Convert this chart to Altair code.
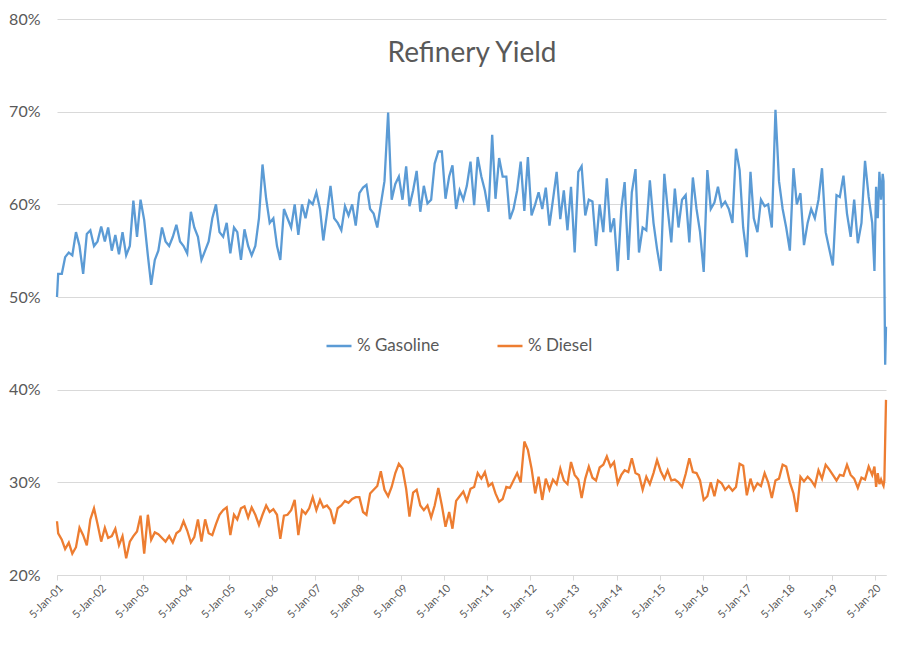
import altair as alt
import pandas as pd

# ---------------- data (values in %) ----------------
first_date = "2001-01-05"
gas_first = 50.0
dsl_first = 25.8

# monthly readings (mid-month), Jan..Dec
gasoline = {
    2001: [52.5, 52.5, 54.3, 54.8, 54.5, 57.0, 55.5, 52.5, 56.8, 57.2, 55.5, 56.0],
    2002: [57.6, 56.0, 57.5, 55.0, 56.7, 54.6, 57.0, 54.5, 55.5, 60.4, 56.5, 60.5],
    2003: [58.3, 54.5, 51.3, 54.0, 55.0, 57.5, 56.0, 55.5, 56.5, 57.8, 56.0, 55.5],
    2004: [54.7, 59.2, 57.5, 56.5, 54.0, 55.0, 56.0, 58.5, 60.0, 57.0, 56.5, 58.0],
    2005: [54.7, 57.5, 57.0, 54.0, 57.3, 55.5, 54.5, 55.5, 58.5, 64.3, 60.6, 58.0],
    2006: [58.5, 55.5, 54.0, 59.5, 58.5, 57.5, 60.0, 56.7, 60.0, 58.5, 60.4, 60.0],
    2007: [61.3, 59.5, 56.1, 59.0, 62.0, 58.5, 58.0, 57.2, 59.8, 58.8, 60.0, 57.7],
    2008: [61.2, 61.8, 62.1, 59.5, 59.0, 57.5, 60.0, 62.5, 69.9, 60.5, 62.2, 63.0],
    2009: [60.5, 64.1, 59.8, 61.5, 63.6, 59.2, 62.0, 60.1, 60.5, 64.4, 65.7, 65.7],
    2010: [60.6, 63.0, 64.2, 59.5, 61.5, 60.5, 62.0, 64.6, 59.9, 65.1, 63.0, 61.5],
    2011: [59.2, 67.5, 60.6, 65.0, 63.0, 63.0, 58.4, 59.5, 61.5, 64.6, 59.3, 65.1],
    2012: [58.8, 60.0, 61.3, 59.5, 61.8, 57.7, 60.5, 63.5, 58.4, 61.5, 57.2, 61.9],
    2013: [54.8, 63.5, 64.1, 58.8, 60.5, 60.3, 55.5, 60.0, 57.0, 62.8, 57.0, 58.5],
    2014: [52.8, 59.5, 62.4, 54.0, 61.3, 63.8, 54.8, 57.5, 57.2, 62.6, 58.0, 55.2],
    2015: [52.8, 63.3, 59.5, 55.9, 61.7, 57.5, 60.5, 61.0, 55.9, 62.9, 59.5, 57.0],
    2016: [52.7, 63.7, 59.5, 60.2, 61.9, 59.8, 60.3, 59.5, 58.0, 66.0, 63.7, 57.5],
    2017: [54.3, 63.5, 58.5, 57.0, 60.5, 59.8, 60.0, 57.5, 70.2, 62.5, 59.5, 57.5],
    2018: [55.0, 63.9, 60.0, 61.2, 55.6, 58.0, 59.5, 58.5, 60.5, 63.9, 57.0, 55.2],
    2019: [53.4, 61.0, 60.8, 63.1, 59.0, 56.5, 60.5, 55.8, 58.0, 64.7, 60.8, 58.0],
}

diesel = {
    2001: [24.5, 23.8, 22.8, 23.5, 22.3, 23.0, 25.1, 24.3, 23.2, 26.0, 27.2, 25.5],
    2002: [23.6, 25.1, 24.0, 24.2, 25.0, 23.2, 24.2, 21.8, 23.6, 24.2, 24.7, 26.4],
    2003: [22.3, 26.5, 23.8, 24.6, 24.4, 24.0, 23.6, 24.2, 23.5, 24.5, 24.8, 25.8],
    2004: [24.8, 23.5, 24.1, 26.0, 23.6, 26.0, 24.5, 24.3, 25.5, 26.5, 27.0, 27.3],
    2005: [24.3, 26.5, 26.0, 27.2, 27.4, 26.2, 27.3, 26.5, 25.4, 26.5, 27.5, 26.8],
    2006: [27.1, 26.5, 23.9, 26.4, 26.5, 27.0, 28.1, 24.3, 27.0, 26.6, 27.2, 28.4],
    2007: [27.0, 28.1, 27.3, 27.5, 27.0, 25.5, 27.2, 27.5, 28.0, 27.8, 28.2, 28.4],
    2008: [28.4, 26.8, 26.5, 28.8, 29.2, 29.6, 31.2, 29.2, 28.5, 29.5, 31.0, 32.0],
    2009: [31.5, 29.3, 26.3, 28.9, 29.2, 27.5, 27.0, 27.5, 26.2, 27.5, 29.4, 27.5],
    2010: [25.2, 26.8, 25.0, 28.0, 28.5, 29.0, 28.0, 29.3, 29.5, 31.0, 30.4, 31.1],
    2011: [29.6, 29.9, 28.8, 27.9, 28.2, 29.5, 29.4, 30.2, 31.0, 30.0, 34.4, 33.5],
    2012: [31.5, 28.8, 30.6, 28.1, 30.4, 29.2, 30.3, 29.8, 31.5, 30.2, 29.8, 32.2],
    2013: [30.8, 30.3, 28.3, 30.4, 31.7, 30.5, 30.2, 31.6, 31.9, 32.8, 31.7, 32.2],
    2014: [29.9, 30.8, 31.3, 31.1, 32.6, 31.0, 30.8, 29.2, 30.6, 29.8, 31.0, 32.4],
    2015: [31.2, 30.4, 31.3, 30.2, 30.3, 30.0, 29.5, 30.9, 32.6, 31.1, 31.0, 30.2],
    2016: [28.1, 28.5, 30.0, 28.5, 30.2, 29.9, 29.2, 29.6, 29.1, 29.5, 32.0, 31.8],
    2017: [28.6, 30.4, 29.2, 29.9, 29.6, 31.0, 30.0, 28.3, 30.2, 30.4, 31.9, 31.7],
    2018: [30.0, 28.8, 26.8, 30.6, 30.1, 30.6, 30.2, 29.6, 31.3, 30.4, 31.9, 31.4],
    2019: [30.8, 30.2, 30.8, 30.7, 31.9, 30.8, 30.4, 29.4, 30.5, 30.3, 31.7, 30.8],
}

# last weeks of the series (2020)
weeks_2020 = ["2020-01-03", "2020-01-17", "2020-01-31", "2020-02-14", "2020-02-28",
              "2020-03-13", "2020-03-20", "2020-03-27", "2020-04-03", "2020-04-10"]
gas_2020 = [52.8, 61.9, 58.5, 63.5, 60.5, 63.3, 62.5, 52.5, 42.7, 46.8]
dsl_2020 = [31.7, 29.5, 31.0, 29.8, 30.3, 29.8, 29.6, 30.2, 34.5, 38.9]

series_names = ["% Gasoline", "% Diesel"]
series_colors = ["#5B9BD5", "#ED7D31"]
y_ticks = [0.2, 0.3, 0.4, 0.5, 0.6, 0.7, 0.8]
tick_years = list(range(2001, 2021))

# ---------------- table ----------------
rows = [(first_date, series_names[0], gas_first), (first_date, series_names[1], dsl_first)]
for name, table in ((series_names[0], gasoline), (series_names[1], diesel)):
    for year, vals in table.items():
        for m, v in enumerate(vals, start=1):
            rows.append((f"{year}-{m:02d}-15", name, v))
for d, g, s in zip(weeks_2020, gas_2020, dsl_2020):
    rows.append((d, series_names[0], g))
    rows.append((d, series_names[1], s))

df = pd.DataFrame(rows, columns=["date", "series", "value"])
df["date"] = pd.to_datetime(df["date"])
df["value"] = df["value"] / 100.0

FONT = "Lato"
TXT = "#595959"
GRID = "#D9D9D9"

x_enc = alt.X(
    "date:T",
    scale=alt.Scale(domain=[alt.DateTime(year=2001, month=1, date=5),
                            alt.DateTime(year=2020, month=4, date=10)]),
    axis=alt.Axis(
        values=[alt.DateTime(year=y, month=1, date=5) for y in tick_years],
        format="%-d-%b-%y", labelAngle=315, labelAlign="right", labelBaseline="top",
        labelFontSize=11, labelFont=FONT, labelColor=TXT, labelPadding=2,
        tickSize=5, tickColor=GRID, domainColor=GRID, grid=False, title=None,
        labelOverlap=False,
    ),
)
y_enc = alt.Y(
    "value:Q",
    scale=alt.Scale(domain=[0.2, 0.8]),
    axis=alt.Axis(
        values=y_ticks, format=".0%", grid=True, gridColor=GRID, domain=False,
        ticks=False, labelFontSize=16, labelFont=FONT, labelColor=TXT,
        labelPadding=17, title=None,
    ),
)

lines = alt.Chart(df).mark_line(strokeWidth=2.3).encode(
    x=x_enc,
    y=y_enc,
    color=alt.Color(
        "series:N",
        scale=alt.Scale(domain=series_names, range=series_colors),
        legend=alt.Legend(
            orient="none", legendX=268, legendY=313, direction="horizontal",
            title=None, symbolType="stroke", symbolSize=625, symbolStrokeWidth=2.5,
            labelFontSize=17, labelFont=FONT, labelColor=TXT, columnPadding=52,
            padding=0, labelOffset=4,
        ),
    ),
)

title = alt.Chart(pd.DataFrame({"t": ["Refinery Yield"]})).mark_text(
    fontSize=28, font=FONT, color=TXT, align="center", baseline="alphabetic"
).encode(x=alt.value(415), y=alt.value(43), text="t:N")

chart = alt.layer(lines, title).properties(
    width=829, height=556,
    autosize=alt.AutoSizeParams(type="none"),
    padding={"left": 49, "top": 11, "right": 18, "bottom": 79},
    background="white",
).configure_view(stroke=None)

chart.save("out.html", embed_options={"renderer": "svg", "actions": False})
